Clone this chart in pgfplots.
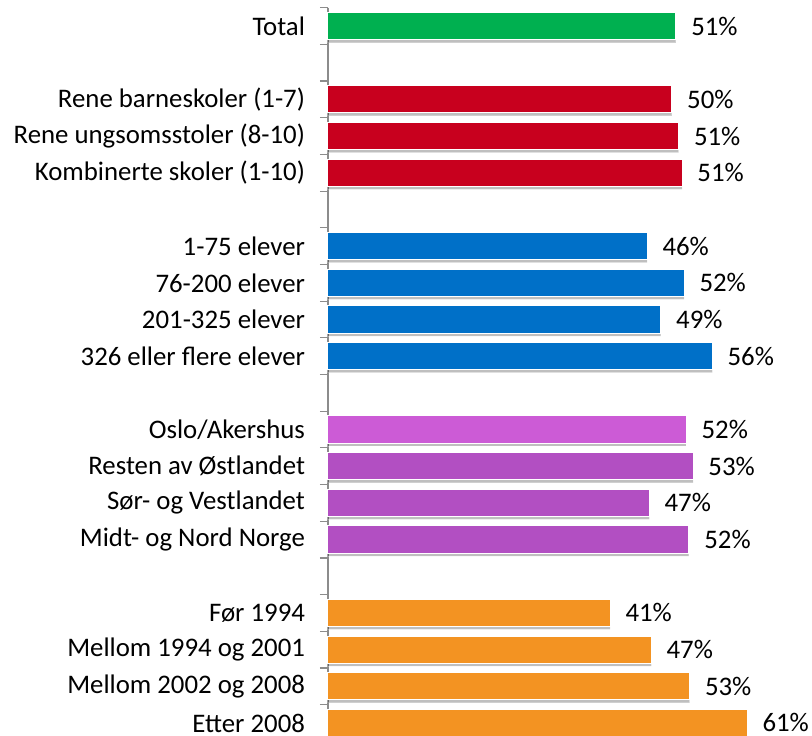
\documentclass[border=0pt]{standalone}
\usepackage{pgfplots}
\pgfplotsset{compat=1.18}
\usepackage{fontspec}
\setmainfont{Carlito}
\usetikzlibrary{shadows}
\definecolor{cgreen}{RGB}{0,176,80}
\definecolor{cred}{RGB}{200,0,30}
\definecolor{cblue}{RGB}{0,112,200}
\definecolor{cpink}{RGB}{204,91,214}
\definecolor{cpurple}{RGB}{178,79,194}
\definecolor{corange}{RGB}{243,147,34}
\tikzset{barsh/.style={draw=white, line width=1pt, drop shadow={shadow xshift=0pt, shadow yshift=-3pt, opacity=0.25, fill=black}}}
\begin{document}
\begin{tikzpicture}
\begin{axis}[
  at={(0,0)}, anchor=south west,
  scale only axis, width=479.5pt, height=733.6pt,
  xmin=0, xmax=70, ymin=-0.5, ymax=19.5, y dir=reverse,
  xbar, bar shift=0pt, bar width=0.74,
  hide x axis, axis y line*=left,
  y axis line style={draw=black!45, line width=1.5pt, -},
  ytick={0,...,19},
  yticklabels={Total,,Rene barneskoler (1-7),Rene ungsomsstoler (8-10),Kombinerte skoler (1-10),,1-75 elever,76-200 elever,201-325 elever,326 eller flere elever,,Oslo/Akershus,Resten av Østlandet,Sør- og Vestlandet,Midt- og Nord Norge,,Før 1994,Mellom 1994 og 2001,Mellom 2002 og 2008,Etter 2008},
  major tick length=0pt,
  minor ytick={-0.5,0.5,...,19.5},
  minor tick length=8pt, tick align=outside,
  minor tick style={draw=black!45, line width=1.2pt},
  yticklabel style={font=\fontsize{26.8}{31}\selectfont, xshift=-19.5pt},
  nodes near coords, point meta=explicit symbolic,
  nodes near coords style={font=\fontsize{26.8}{31}\selectfont, anchor=west, xshift=11.5pt, text=black},
  clip=false,
]
\addplot[fill=cgreen, barsh] coordinates {(50.8,0) [51\%]};
\addplot[fill=cred, barsh] coordinates {(50.2,2) [50\%] (51.2,3) [51\%] (51.7,4) [51\%]};
\addplot[fill=cblue, barsh] coordinates {(46.6,6) [46\%] (52.0,7) [52\%] (48.6,8) [49\%] (56.1,9) [56\%]};
\addplot[fill=cpink, barsh] coordinates {(52.3,11) [52\%]};
\addplot[fill=cpurple, barsh] coordinates {(53.3,12) [53\%] (46.9,13) [47\%] (52.7,14) [52\%]};
\addplot[fill=corange, barsh] coordinates {(41.2,16) [41\%] (47.2,17) [47\%] (52.8,18) [53\%] (61.2,19) [61\%]};
\end{axis}
\pgfresetboundingbox
\path[use as bounding box] (-328pt,5.3pt) rectangle (484pt,741.3pt);
\end{tikzpicture}
\end{document}
